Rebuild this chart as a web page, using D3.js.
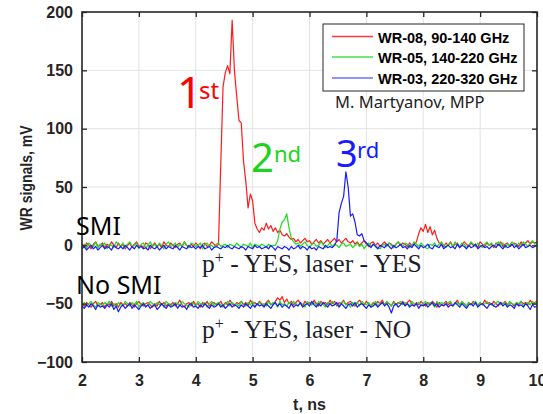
<!DOCTYPE html>
<html>
<head>
<meta charset="utf-8">
<script src="https://cdn.jsdelivr.net/npm/d3@7"></script>
<style>
html,body{margin:0;padding:0;background:#fff;}
svg{display:block;}
</style>
</head>
<body>
<svg id="chart" width="543" height="414"></svg>
<script>
// ---------------- DATA ----------------
const tStart = 2, tStep = 0.04, nSamples = 201;   // sampling grid, ns
const xTicks = [2, 3, 4, 5, 6, 7, 8, 9, 10];
const yTicks = [-100, -50, 0, 50, 100, 150, 200];
const seriesNames = ["WR-08, 90-140 GHz", "WR-05, 140-220 GHz", "WR-03, 220-320 GHz"];
const seriesColors = ["#ff1a1a", "#1edc1e", "#1a1aff"];
const legendColors = ["#ff3a3a", "#46e046", "#6e6eff"];

// p+ YES, laser YES (SMI)
const wr08_smi = [
 1,-2,2,0,-3,1,3,-1,0,2,
 -2,1,-1,3,0,-2,2,-1,1,-3,
 0,2,-2,1,3,-1,0,-2,2,1,
 -3,0,2,-1,1,-2,3,0,-1,2,
 0,-2,1,2,-1,3,0,-2,1,-1,
 2,0,-3,1,2,-1,0,3,1,-1,
 1,70,136,148,154,147,193,150,128,107,
 105,72,55,32,44,38,19,14,11,15,
 13,19,14,17,12,15,11,13,9,8,
 10,7,5,6,3,5,2,4,6,3,
 4,1,3,5,2,4,1,3,5,2,
 4,6,3,5,2,4,6,3,2,4,
 1,3,0,2,4,1,-1,2,3,0,
 2,-1,1,3,0,2,1,-2,1,3,
 0,2,1,-1,2,0,1,3,10,15,
 12,18,11,16,9,13,6,2,1,-1,
 2,0,3,-1,1,2,-2,0,3,1,
 -1,2,0,1,-2,3,1,-1,2,0,
 1,-2,2,0,3,-1,1,2,-1,0,
 2,1,-1,3,0,2,4,1,3,2,
 3];
const wr05_smi = [
 -2,1,-3,2,0,-1,3,-2,1,0,
 2,-3,1,0,-2,3,1,-1,2,-2,
 1,3,-1,0,2,-3,1,2,-2,0,
 3,-1,1,-2,2,0,-3,1,3,-1,
 0,2,-2,1,-1,3,0,-2,2,1,
 -1,0,2,-3,1,2,-1,0,-2,1,
 2,-1,0,1,-2,1,0,-1,2,0,
 -2,1,0,-1,2,-2,1,0,-1,1,
 0,-2,1,-1,0,0,4,14,20,22,
 27,15,6,3,1,2,-1,1,3,0,
 -2,1,2,-1,0,3,1,-2,0,2,
 -1,1,0,-2,1,2,-1,0,1,-2,
 0,2,-1,1,-3,0,2,-1,1,0,
 -2,-3,0,1,-1,2,0,-2,1,3,
 0,-1,2,1,-2,0,3,1,-1,2,
 0,-2,-3,1,0,2,-1,1,3,0,
 -2,1,2,-1,3,0,-1,2,1,-2,
 0,3,1,-1,2,0,-2,1,3,0,
 2,-1,1,3,0,2,-2,1,0,3,
 1,-1,2,0,3,1,-1,2,4,1,
 2];
const wr03_smi = [
 -3,-1,-4,-2,0,-3,-1,-4,-2,0,
 -3,-1,-2,-4,0,-2,-3,-1,-3,0,
 -2,-4,-1,-3,0,-2,-1,-3,-2,-4,
 0,-2,-3,-1,-4,-2,0,-3,-1,-2,
 -3,0,-2,-4,-1,-2,-3,0,-2,-1,
 -3,-1,-2,0,-3,-2,-1,-4,-2,-1,
 -2,-3,-1,-2,0,-2,-3,-1,-2,-3,
 -1,-2,-4,-1,-2,-3,0,-2,-1,-3,
 -2,-1,-3,0,-2,-4,-1,-2,-3,-1,
 -2,-4,-1,-3,-2,0,-3,-1,-2,-4,
 -1,-3,-2,-4,-1,-2,-3,0,-2,-1,
 -2,0,4,28,36,42,63,50,25,27,
 20,9,8,10,4,2,0,-2,1,-1,
 -3,0,-1,-2,1,-1,-3,0,-2,-1,
 1,-2,-1,-3,0,-2,1,-1,-3,0,
 -2,-1,1,-2,-3,0,-1,-2,1,-3,
 -1,0,-2,-1,-3,1,-2,0,-1,-3,
 0,-2,-1,1,-3,-1,0,-2,-1,-3,
 -1,0,-2,1,-1,-3,0,-2,-1,1,
 -2,0,-3,-1,1,-2,-1,0,-2,-1,
 0];

// p+ YES, laser NO (No SMI)
const wr08_nosmi = [
 -50,-52,-49,-51,-53,-50,-48,-52,-51,-49,
 -53,-50,-51,-48,-52,-50,-53,-49,-51,-50,
 -52,-49,-51,-53,-50,-48,-51,-52,-50,-49,
 -51,-53,-50,-52,-48,-51,-49,-52,-50,-51,
 -49,-52,-50,-47,-51,-53,-50,-49,-52,-48,
 -51,-50,-53,-49,-51,-48,-52,-50,-49,-51,
 -50,-48,-52,-49,-51,-47,-50,-52,-49,-50,
 -48,-51,-49,-52,-47,-50,-49,-51,-48,-50,
 -52,-49,-47,-51,-50,-48,-45,-47,-44,-49,
 -46,-50,-48,-51,-49,-47,-50,-52,-48,-50,
 -49,-51,-47,-50,-52,-48,-50,-49,-51,-47,
 -50,-48,-52,-49,-50,-47,-51,-49,-48,-50,
 -52,-49,-47,-50,-51,-48,-50,-52,-49,-51,
 -48,-50,-47,-51,-49,-50,-52,-48,-51,-49,
 -50,-48,-51,-49,-47,-50,-52,-49,-51,-48,
 -50,-52,-49,-51,-48,-50,-53,-49,-51,-50,
 -48,-51,-49,-52,-50,-47,-51,-49,-50,-52,
 -49,-51,-48,-50,-52,-49,-51,-47,-50,-49,
 -51,-48,-50,-52,-49,-50,-48,-51,-49,-50,
 -52,-49,-51,-48,-50,-49,-51,-47,-50,-49,
 -48];
const wr05_nosmi = [
 -51,-49,-52,-50,-48,-51,-53,-49,-50,-52,
 -49,-51,-48,-52,-50,-53,-49,-51,-52,-48,
 -50,-52,-49,-51,-48,-53,-50,-49,-52,-51,
 -48,-50,-52,-49,-51,-50,-53,-48,-50,-52,
 -51,-49,-50,-52,-48,-50,-51,-53,-49,-50,
 -52,-48,-50,-51,-49,-53,-50,-48,-52,-50,
 -49,-51,-53,-50,-48,-52,-49,-51,-50,-52,
 -48,-50,-52,-49,-51,-48,-53,-50,-49,-51,
 -50,-52,-48,-51,-49,-50,-53,-48,-51,-50,
 -52,-49,-51,-48,-50,-52,-49,-51,-53,-48,
 -50,-51,-49,-52,-48,-50,-51,-53,-49,-50,
 -48,-51,-50,-52,-49,-48,-51,-50,-53,-49,
 -51,-49,-52,-48,-50,-51,-49,-53,-50,-48,
 -52,-50,-49,-51,-48,-50,-52,-49,-51,-50,
 -48,-51,-49,-50,-52,-48,-50,-51,-49,-52,
 -50,-48,-51,-49,-50,-53,-48,-51,-49,-50,
 -51,-49,-48,-52,-50,-49,-51,-48,-50,-52,
 -49,-51,-50,-48,-52,-49,-51,-50,-48,-51,
 -50,-52,-49,-48,-51,-50,-49,-52,-48,-50,
 -51,-49,-50,-48,-52,-50,-49,-51,-48,-50,
 -49];
const wr03_nosmi = [
 -52,-54,-51,-53,-50,-52,-55,-51,-53,-52,
 -54,-51,-53,-50,-55,-52,-57,-53,-51,-54,
 -52,-50,-54,-51,-53,-55,-52,-50,-53,-51,
 -54,-52,-51,-55,-53,-50,-52,-54,-51,-53,
 -52,-50,-54,-51,-53,-52,-55,-51,-50,-53,
 -52,-54,-51,-53,-50,-52,-54,-51,-53,-52,
 -50,-53,-51,-54,-52,-50,-53,-51,-52,-54,
 -51,-53,-50,-52,-54,-51,-53,-50,-52,-51,
 -53,-50,-52,-54,-51,-49,-52,-50,-53,-51,
 -52,-54,-50,-53,-51,-52,-49,-53,-51,-50,
 -52,-48,-51,-53,-50,-52,-49,-51,-53,-50,
 -52,-51,-49,-53,-50,-52,-54,-51,-50,-52,
 -49,-53,-51,-50,-52,-54,-51,-53,-52,-50,
 -53,-51,-49,-52,-50,-53,-58,-52,-50,-53,
 -51,-49,-52,-50,-53,-51,-52,-50,-54,-51,
 -52,-50,-53,-51,-49,-52,-50,-53,-51,-52,
 -50,-53,-51,-52,-49,-51,-53,-50,-52,-54,
 -51,-50,-52,-49,-53,-51,-50,-52,-54,-51,
 -50,-52,-53,-51,-49,-52,-50,-53,-51,-52,
 -54,-50,-52,-51,-53,-50,-52,-55,-51,-53,
 -52];

const times = d3.range(nSamples).map(i => tStart + i * tStep);

// ---------------- CHART ----------------
const svg = d3.select("#chart");
const M = {left: 82, right: 537, top: 12, bottom: 362};
const x = d3.scaleLinear().domain([2, 10]).range([M.left, M.right]);
const y = d3.scaleLinear().domain([-100, 200]).range([M.bottom, M.top]);

svg.append("rect").attr("width", 543).attr("height", 414).attr("fill", "#fff");

// grid
const grid = svg.append("g").attr("stroke", "#e3e3e3").attr("stroke-width", 1);
grid.selectAll("line.gx").data(xTicks.slice(1, -1)).join("line")
  .attr("x1", d => x(d)).attr("x2", d => x(d)).attr("y1", M.top).attr("y2", M.bottom);
grid.selectAll("line.gy").data(yTicks.slice(1, -1)).join("line")
  .attr("x1", M.left).attr("x2", M.right).attr("y1", d => y(d)).attr("y2", d => y(d));

// clip
svg.append("clipPath").attr("id", "clip").append("rect")
  .attr("x", M.left).attr("y", M.top).attr("width", M.right - M.left).attr("height", M.bottom - M.top);

const line = d3.line().x((d, i) => x(times[i])).y(d => y(d));
const traces = [
  [wr08_nosmi, 0], [wr05_nosmi, 1], [wr03_nosmi, 2],
  [wr08_smi, 0], [wr05_smi, 1], [wr03_smi, 2]
];
const gLines = svg.append("g").attr("clip-path", "url(#clip)");
gLines.selectAll("path").data(traces).join("path")
  .attr("d", d => line(d[0]))
  .attr("fill", "none")
  .attr("stroke", d => seriesColors[d[1]])
  .attr("stroke-width", 1.2)
  .attr("stroke-linejoin", "round");

// axes
const axisColor = "#262626";
const tickFont = "'Liberation Sans', Arial, sans-serif";
function styleAxis(g) {
  g.select(".domain").remove();
  g.selectAll(".tick line").attr("stroke", axisColor).attr("stroke-width", 1.3);
  g.selectAll(".tick text").attr("fill", axisColor).attr("font-family", tickFont)
    .attr("font-weight", "bold").attr("font-size", "16px");
}
svg.append("g").attr("transform", `translate(0,${M.bottom})`)
  .call(d3.axisBottom(x).tickValues(xTicks).tickSize(-5).tickPadding(13).tickFormat(d3.format("d")))
  .call(styleAxis);
svg.append("g").attr("transform", `translate(${M.left},0)`)
  .call(d3.axisLeft(y).tickValues(yTicks).tickSize(-5).tickPadding(9).tickFormat(d3.format("d")))
  .call(styleAxis);
svg.append("g").attr("transform", `translate(0,${M.top})`)
  .call(d3.axisTop(x).tickValues(xTicks).tickSize(-5).tickFormat(""))
  .call(styleAxis);
svg.append("g").attr("transform", `translate(${M.right},0)`)
  .call(d3.axisRight(y).tickValues(yTicks).tickSize(-5).tickFormat(""))
  .call(styleAxis);

svg.append("rect").attr("x", M.left).attr("y", M.top)
  .attr("width", M.right - M.left).attr("height", M.bottom - M.top)
  .attr("fill", "none").attr("stroke", axisColor).attr("stroke-width", 1.6);

// axis labels
svg.append("text").attr("x", (M.left + M.right) / 2).attr("y", 410)
  .attr("text-anchor", "middle").attr("font-family", tickFont).attr("font-weight", "bold")
  .attr("font-size", "16px").attr("fill", axisColor).text("t, ns");
svg.append("text").attr("transform", "translate(32,178) rotate(-90)")
  .attr("text-anchor", "middle").attr("font-family", tickFont).attr("font-weight", "bold")
  .attr("font-size", "16px").attr("fill", axisColor)
  .attr("textLength", 105).attr("lengthAdjust", "spacingAndGlyphs")
  .text("WR signals, mV");

// legend
const leg = svg.append("g");
leg.append("rect").attr("x", 323).attr("y", 24).attr("width", 201).attr("height", 67)
  .attr("fill", "#fff").attr("stroke", axisColor).attr("stroke-width", 1);
const rowY = [36.5, 57, 78];
seriesNames.forEach((name, i) => {
  leg.append("line").attr("x1", 332).attr("x2", 373).attr("y1", rowY[i]).attr("y2", rowY[i])
    .attr("stroke", legendColors[i]).attr("stroke-width", 1.5);
  leg.append("text").attr("x", 378).attr("y", rowY[i] + 6)
    .attr("font-family", tickFont).attr("font-weight", "bold").attr("font-size", "14.5px")
    .attr("fill", "#000").text(name);
});

// annotations
const sans = "'Noto Sans', 'Open Sans', sans-serif";
const serif = "'Liberation Serif', 'Times New Roman', serif";
function ann(txt, xx, yy, size, color, family) {
  return svg.append("text").attr("x", xx).attr("y", yy).attr("font-family", family || sans)
    .attr("font-size", size + "px").attr("fill", color).text(txt);
}
ann("M. Martyanov, MPP", 335, 108, 16.5, "#222");
ann("1", 177, 108, 44, "#ff0000");
ann("st", 199, 99, 24, "#ff0000");
ann("2", 251, 172, 40, "#1ed21e");
ann("nd", 274, 162, 22, "#1ed21e");
ann("3", 336, 167, 38, "#1a1aff");
ann("rd", 357, 158, 22, "#1a1aff");
ann("SMI", 76, 235, 25, "#000");
ann("No SMI", 76, 294, 25, "#000");

function pLabel(rest, yy) {
  const t = svg.append("text").attr("x", 202).attr("y", yy).attr("font-family", serif)
    .attr("font-size", "25.5px").attr("fill", "#1e1e2a");
  t.append("tspan").text("p");
  t.append("tspan").attr("dy", -9).attr("font-size", "16px").text("+");
  t.append("tspan").attr("dy", 9).text(rest);
}
pLabel(" - YES, laser - YES", 272);
pLabel(" - YES, laser - NO", 338);
</script>
</body>
</html>
